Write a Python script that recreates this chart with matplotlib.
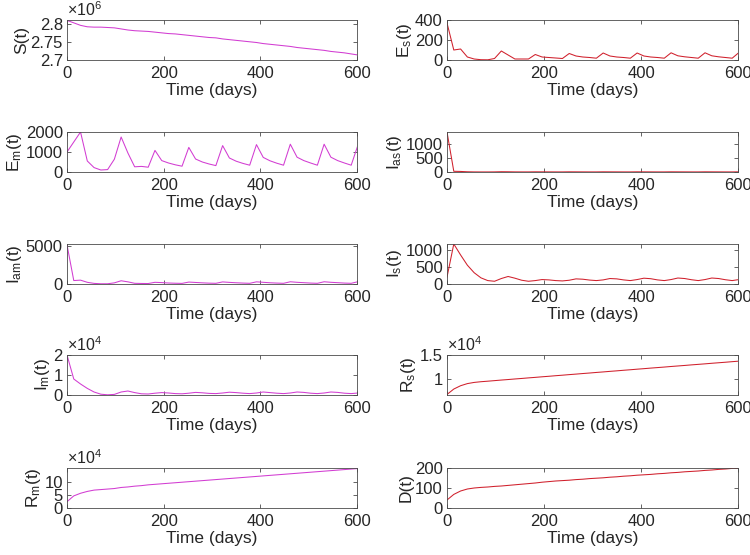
import numpy as np
import matplotlib
matplotlib.use("Agg")
import matplotlib.pyplot as plt
from matplotlib.ticker import FuncFormatter

plt.rcParams['font.family'] = ['Liberation Sans', 'DejaVu Sans']
plt.rcParams['font.size'] = 12
plt.rcParams['mathtext.default'] = 'regular'

# sampling grid (days)
t = np.arange(0, 603, 14)

S = [2.811, 2.804, 2.797, 2.793, 2.792, 2.792, 2.791, 2.790, 2.787, 2.784, 2.782,
     2.781, 2.780, 2.778, 2.776, 2.774, 2.773, 2.771, 2.769, 2.767, 2.765, 2.763,
     2.762, 2.759, 2.757, 2.755, 2.753, 2.751, 2.749, 2.746, 2.744, 2.742, 2.740,
     2.738, 2.735, 2.733, 2.731, 2.729, 2.727, 2.724, 2.722, 2.720, 2.717, 2.714]
S = [v * 1e6 for v in S]

Es = [370, 100, 110, 30, 10, 3, 2, 15, 90, 50, 10, 10, 10, 55, 30, 25, 20, 15, 65, 40,
      30, 25, 18, 70, 40, 30, 25, 18, 70, 40, 30, 25, 18, 72, 42, 32, 25, 18, 72, 42,
      32, 25, 18, 75]

Em = [1000, 1500, 2000, 550, 220, 100, 120, 640, 1750, 950, 260, 280, 240, 1080, 570,
      450, 360, 290, 1230, 650, 500, 400, 320, 1320, 700, 540, 430, 340, 1370, 730, 560,
      440, 340, 1390, 740, 570, 450, 340, 1390, 740, 570, 450, 340, 1350]

Ias = [1420, 25, 20, 8, 3, 2, 2, 4, 10, 8, 4, 3, 3, 6, 5, 4, 3, 3, 6, 5, 4, 3, 3, 6, 5,
       4, 3, 3, 6, 5, 4, 3, 3, 6, 5, 4, 3, 3, 6, 5, 4, 3, 3, 6]

Iam = [5100, 450, 500, 220, 80, 30, 30, 150, 420, 280, 90, 70, 60, 220, 180, 130, 100,
       80, 250, 200, 150, 110, 90, 270, 210, 160, 120, 90, 280, 220, 160, 120, 90, 290,
       220, 170, 120, 90, 290, 220, 170, 120, 90, 300]

Is = [200, 1170, 850, 550, 330, 180, 100, 80, 160, 220, 170, 110, 80, 100, 130, 120,
      100, 90, 110, 150, 140, 115, 100, 120, 160, 150, 120, 100, 130, 170, 155, 120, 100,
      130, 175, 160, 125, 100, 130, 175, 160, 125, 100, 130]

Im = [20000, 8000, 5500, 3300, 1500, 400, 100, 300, 1500, 2000, 1200, 600, 500, 900,
      1200, 1000, 700, 600, 900, 1300, 1100, 800, 700, 1000, 1400, 1200, 900, 700, 1000,
      1500, 1200, 900, 700, 1000, 1500, 1300, 900, 700, 1000, 1500, 1300, 900, 700, 1000]

Rs = [6650, 7800, 8500, 8950, 9200, 9350, 9460, 9580, 9700, 9810, 9930, 10040, 10160,
      10270, 10390, 10500, 10620, 10730, 10850, 10960, 11080, 11190, 11310, 11420, 11540,
      11650, 11770, 11880, 12000, 12110, 12230, 12340, 12450, 12570, 12680, 12790, 12910,
      13020, 13130, 13250, 13360, 13470, 13590, 13700]

Rm = [2.4, 4.6, 5.6, 6.3, 6.8, 7.0, 7.2, 7.4, 7.8, 8.0, 8.3, 8.5, 8.8, 9.0, 9.2, 9.4,
      9.6, 9.8, 10.0, 10.2, 10.4, 10.6, 10.8, 11.0, 11.2, 11.4, 11.6, 11.8, 12.0, 12.2,
      12.4, 12.6, 12.8, 13.0, 13.2, 13.4, 13.6, 13.8, 14.0, 14.2, 14.4, 14.6, 14.8, 15.0]
Rm = [v * 1e4 for v in Rm]

D = [40, 68, 85, 95, 100, 103, 105, 108, 110, 113, 116, 119, 122, 125, 129, 132, 135,
     137, 139, 142, 144, 147, 149, 151, 154, 156, 159, 161, 164, 166, 168, 171, 173, 176,
     178, 181, 183, 185, 188, 190, 193, 195, 198, 200]

magenta = '#d23cd2'
red = '#d0202c'

# (data, ylabel, ylim, yticks, scale exponent, color, column, row)
panels = [
    (S, 'S(t)', (2.7e6, 2.812e6), [2.7e6, 2.75e6, 2.8e6], 6, magenta, 0, 0),
    (Es, 'E$_s$(t)', (0, 400), [0, 200, 400], 0, red, 1, 0),
    (Em, 'E$_m$(t)', (0, 2000), [0, 1000, 2000], 0, magenta, 0, 1),
    (Ias, 'I$_{as}$(t)', (0, 1420), [0, 500, 1000], 0, red, 1, 1),
    (Iam, 'I$_{am}$(t)', (0, 5200), [0, 5000], 0, magenta, 0, 2),
    (Is, 'I$_s$(t)', (0, 1170), [0, 500, 1000], 0, red, 1, 2),
    (Im, 'I$_m$(t)', (0, 20000), [0, 10000, 20000], 4, magenta, 0, 3),
    (Rs, 'R$_s$(t)', (6540, 15000), [10000, 15000], 4, red, 1, 3),
    (Rm, 'R$_m$(t)', (0, 1.52e5), [0, 5e4, 1e5], 4, magenta, 0, 4),
    (D, 'D(t)', (0, 200), [0, 100, 200], 0, red, 1, 4),
]

col_x = [67 / 750, 447 / 750]
col_w = [290 / 750, 291 / 750]
row_bottom = [60, 172, 284, 395, 508]
ax_h = 40 / 555
edge = '#4a4a4a'
txt = '#262626'

fig = plt.figure(figsize=(7.5, 5.55), dpi=100)

for data, ylabel, ylim, yticks, expo, color, col, row in panels:
    ax = fig.add_axes([col_x[col], 1 - row_bottom[row] / 555, col_w[col], ax_h])
    ax.plot(t, data, color=color, linewidth=0.75)
    ax.set_xlim(0, 600)
    ax.set_ylim(*ylim)
    ax.set_xticks([0, 200, 400, 600])
    ax.set_yticks(yticks)
    if expo:
        ax.yaxis.set_major_formatter(FuncFormatter(lambda v, p, e=expo: f"{v / 10 ** e:g}"))
        ax.text(0.0, 1.03, r'$\times$10$^{%d}$' % expo, transform=ax.transAxes,
                ha='left', va='bottom', fontsize=11.5, color=txt)
    ax.set_xlabel('Time (days)', fontsize=12.5, labelpad=2, color=txt)
    ax.set_ylabel(ylabel, fontsize=12.5, labelpad=1, color=txt)
    for s in ax.spines.values():
        s.set_color(edge)
        s.set_linewidth(0.6)
    ax.tick_params(direction='in', top=True, right=True, length=3, width=0.6,
                   color=edge, labelcolor=txt, labelsize=12)
    ax.tick_params(axis='x', pad=4)
    ax.tick_params(axis='y', pad=3)

fig.savefig('out.png', dpi=100)
